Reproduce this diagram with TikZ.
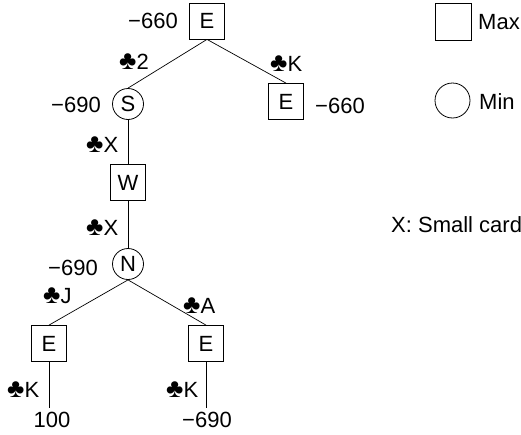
\documentclass[tikz,border=0pt]{standalone}
\usepackage{fontspec}
\setmainfont{Liberation Sans}
\newcommand{\clubsym}{\scalebox{1.2}{♣}}
\begin{document}
\begin{tikzpicture}[x=1pt,y=-1pt,
  every node/.style={font=\fontsize{22}{26}\selectfont, inner sep=0pt},
  maxnode/.style={draw, line width=0.8pt, minimum width=35pt, minimum height=36pt},
  minnode/.style={draw, circle, line width=0.8pt, minimum size=31pt},
  leaf/.style={inner sep=4pt},
  edge/.style={line width=0.7pt}]
\useasboundingbox (0,0) rectangle (521,434);

% game tree
\node[maxnode] (e0) at (207,21) {E};
\node[minnode] (s)  at (128,104) {S};
\node[maxnode] (e1) at (286,101.5) {E};
\node[maxnode] (w)  at (128,182.5) {W};
\node[minnode] (n)  at (128,264) {N};
\node[maxnode] (e2) at (49,343.5) {E};
\node[maxnode] (e3) at (206,343.5) {E};
\node[leaf] (r1) at (52,420) {100};
\node[leaf] (r2) at (207,420) {−690};

\draw[edge] (e0.south) -- (s.north);
\draw[edge] (e0.south) -- (e1.north);
\draw[edge] (s.south) -- (w.north);
\draw[edge] (w.south) -- (n.north);
\draw[edge] (n.south) -- (e2.north);
\draw[edge] (n.south) -- (e3.north);
\draw[edge] (e2.south) -- (e2.south |- r1.north);
\draw[edge] (e3.south) -- (e3.south |- r2.north);

% values and played cards
\node[anchor=east] (v0) at (178,21) {−660};
\node[anchor=east] (v1) at (101,105) {−690};
\node[anchor=west] (v2) at (315,106) {−660};
\node[anchor=east] (v3) at (98,268) {−690};
\node[anchor=east] (c1) at (149,62) {\clubsym2};
\node[anchor=west] (c2) at (270,64) {\clubsym K};
\node[anchor=west] (c3) at (86,145) {\clubsym X};
\node[anchor=west] (c4) at (86,228) {\clubsym X};
\node[anchor=west] (c5) at (43,296) {\clubsym J};
\node[anchor=west] (c6) at (183,306) {\clubsym A};
\node[anchor=west] (c7) at (7,390) {\clubsym K};
\node[anchor=west] (c8) at (166,390) {\clubsym K};

% legend
\node[maxnode, minimum width=36pt, minimum height=37pt] (kmax) at (453,21.5) {};
\node[anchor=west] (tmax) at (478,22) {Max};
\node[minnode, minimum size=35pt] (kmin) at (452.5,100.5) {};
\node[anchor=west] (tmin) at (479,102) {Min};
\node[anchor=west] (tx) at (391,225) {X: Small card};
\end{tikzpicture}
\end{document}
